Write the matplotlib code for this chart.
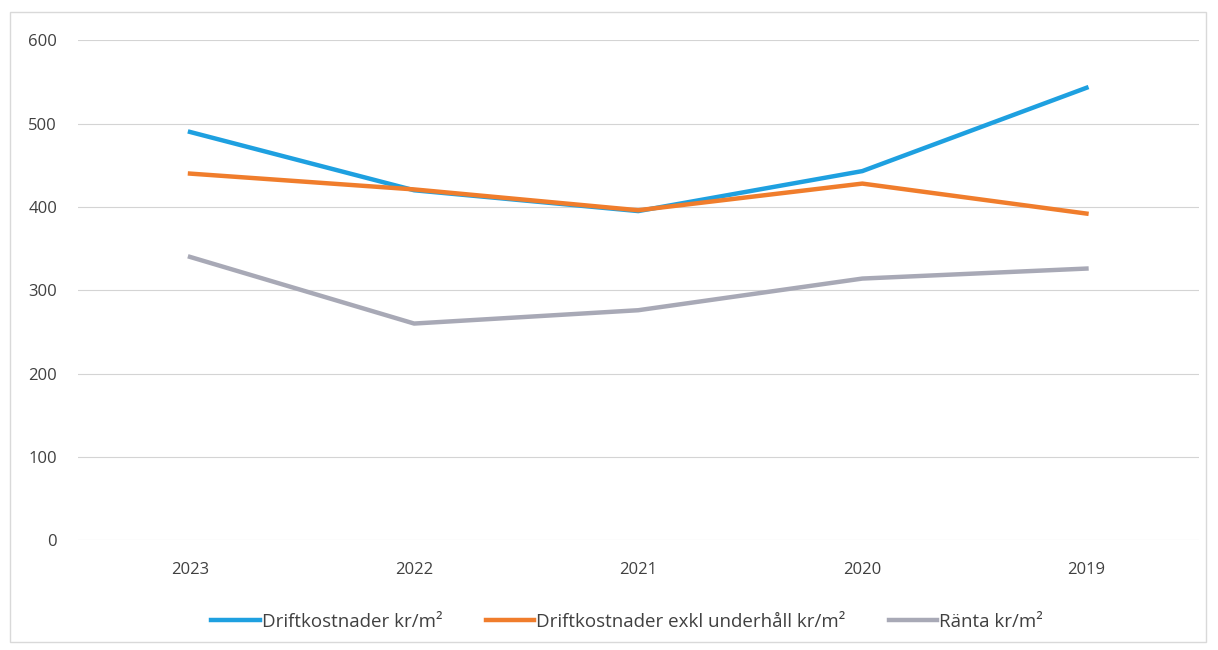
import matplotlib.pyplot as plt
from matplotlib.patches import Rectangle

# --- Nyckeltal per år (kr/m²) ---
years = ['2023', '2022', '2021', '2020', '2019']
drift = [490, 420, 395, 443, 543]
drift_exkl = [440, 421, 396, 428, 392]
ranta = [340, 260, 276, 314, 326]

plt.rcParams['font.family'] = ['Open Sans', 'DejaVu Sans']

fig = plt.figure(figsize=(12.18, 6.5), dpi=100)
ax = fig.add_axes([0.064, 0.169, 0.92, 0.769])

# outer chart frame
fig.patches.append(Rectangle((0.008, 0.012), 0.982, 0.97, transform=fig.transFigure,
                             fill=False, edgecolor='#d9d9d9', linewidth=1))

x = range(len(years))
ax.plot(x, drift, color='#1ea0e0', linewidth=3.2, label='Driftkostnader kr/m²')
ax.plot(x, drift_exkl, color='#f07d2c', linewidth=3.2, label='Driftkostnader exkl underhåll kr/m²')
ax.plot(x, ranta, color='#a8a9b6', linewidth=3.2, label='Ränta kr/m²')

ax.set_xlim(-0.5, len(years) - 0.5)
ax.set_ylim(0, 600)
ax.set_xticks(list(x))
ax.set_xticklabels(years)
ax.set_yticks(range(0, 601, 100))
ax.grid(axis='y', color='#d4d4d4', linewidth=0.8)
ax.set_axisbelow(True)
for s in ax.spines.values():
    s.set_visible(False)
ax.tick_params(length=0, labelsize=12, colors='#404040')
ax.tick_params(axis='x', pad=16)
ax.tick_params(axis='y', pad=15)

fig.legend(loc='center', bbox_to_anchor=(0.515, 0.043), ncol=3, frameon=False,
           fontsize=13.5, handlelength=2.6, handletextpad=0.1, columnspacing=2.3,
           labelcolor='#404040')

plt.savefig('out.png')
